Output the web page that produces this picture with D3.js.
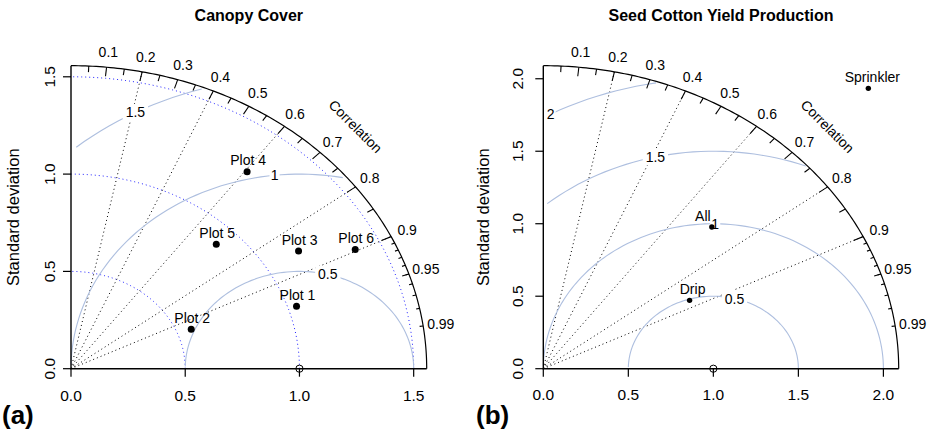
<!DOCTYPE html>
<html>
<head>
<meta charset="utf-8">
<script src="https://cdn.jsdelivr.net/npm/d3@7"></script>
<style>
  body { margin: 0; background: #fff; }
  svg text { font-family: "Liberation Sans", Arial, Helvetica, sans-serif; fill: #000; }
</style>
</head>
<body>
<svg id="chart" width="934" height="436"></svg>
<script>
// Taylor diagrams: (a) canopy cover, (b) seed cotton yield

// ---- data ----
const canopyNames = ['Plot 1', 'Plot 2', 'Plot 3', 'Plot 4', 'Plot 5', 'Plot 6'];
const canopySd = [1.038, 0.564, 1.165, 1.272, 0.902, 1.387];
const canopyCor = [0.951, 0.933, 0.855, 0.606, 0.705, 0.897];

const yieldNames = ['Sprinkler', 'All', 'Drip'];
const yieldSd = [2.719, 1.392, 0.981];
const yieldCor = [0.703, 0.712, 0.877];

const canopyTicks = [0, 0.5, 1.0, 1.5];
const yieldTicks = [0, 0.5, 1.0, 1.5, 2.0];
const canopyGamma = [0.5, 1, 1.5];
const yieldGamma = [0.5, 1, 1.5, 2];
const canopySdArcs = [0.5, 1.0, 1.5];
const yieldSdArcs = [];

const corLines = [0.2, 0.4, 0.6, 0.8, 0.9];
const corLabels = [0.1, 0.2, 0.3, 0.4, 0.5, 0.6, 0.7, 0.8, 0.9, 0.95, 0.99];
const bigTicks = [0.1, 0.2, 0.3, 0.4, 0.5, 0.6, 0.7, 0.8, 0.9];
const medTicks = [0.05, 0.15, 0.25, 0.35, 0.45, 0.55, 0.65, 0.75, 0.85, 0.95];
const smlTicks = [0.91, 0.92, 0.93, 0.94, 0.95, 0.96, 0.97, 0.98, 0.99];

const svg = d3.select('#chart');

function taylor(cfg) {
    const g = svg.append('g');
    const maxsd = cfg.maxsd;
    const x = d3.scaleLinear().domain([0, maxsd]).range([cfg.x0, cfg.x1]);
    const y = d3.scaleLinear().domain([0, maxsd]).range([cfg.y0, cfg.y1]);
    const line = d3.line().x(function (d) { return x(d[0]); }).y(function (d) { return y(d[1]); });

    // 四分之一圆弧的点
    const quarter = function (r) {
        const pts = d3.range(0, Math.PI / 2, 0.01).map(function (a) { return [Math.cos(a) * r, Math.sin(a) * r]; });
        pts.push([0, r]);
        return pts;
    };

    // sd arcs (blue dotted)
    cfg.sdArcs.forEach(function (s) {
        g.append('path').attr('d', line(quarter(s)))
            .attr('fill', 'none').attr('stroke', '#2020ff').attr('stroke-width', 1)
            .attr('stroke-dasharray', '1,3');
    });

    // correlation lines
    corLines.forEach(function (c) {
        g.append('path').attr('d', line([[0, 0], [maxsd * c, maxsd * Math.sqrt(1 - c * c)]]))
            .attr('stroke', '#000').attr('stroke-width', 1).attr('stroke-dasharray', '1,3');
    });

    // gamma (centred RMS) arcs, same rule as plotrix
    const th = d3.range(0, 105).map(function (i) { return i * 0.03; });
    const labelPos = d3.range(cfg.gamma.length).map(function (i) {
        return cfg.gamma.length > 1 ? 45 + i * 25 / (cfg.gamma.length - 1) : 45;
    });
    cfg.gamma.forEach(function (gm, gi) {
        const xc = th.map(function (t) { return Math.cos(t) * gm + cfg.ref; });
        const yc = th.map(function (t) { return Math.sin(t) * gm; });
        let endc = xc.findIndex(function (v) { return v < 0; });
        endc = endc >= 0 ? endc : 105;
        let startc = -1;
        xc.forEach(function (v, i) { if (v * v + yc[i] * yc[i] > maxsd * maxsd) startc = i; });
        startc = startc + 1;
        const pts = [];
        for (let i = startc; i < endc; i++) pts.push([xc[i], yc[i]]);
        g.append('path').attr('d', line(pts)).attr('fill', 'none')
            .attr('stroke', '#aebfdf').attr('stroke-width', 1.1);
        const li = Math.floor(labelPos[gi]) - 1;
        if (xc[li] > 0) {
            const lab = g.append('g').attr('transform', 'translate(' + x(xc[li]) + ',' + y(yc[li]) + ')');
            const t = lab.append('text').attr('text-anchor', 'middle').attr('dy', '0.36em')
                .style('font-size', '14px').text(gm);
            const w = t.node().getComputedTextLength();
            lab.insert('rect', 'text').attr('x', -w * 0.65).attr('y', -8.5)
                .attr('width', w * 1.3).attr('height', 17).attr('fill', '#fff');
        }
    });

    // axes
    g.append('path').attr('d', line([[0, maxsd], [0, 0], [maxsd, 0]]))
        .attr('fill', 'none').attr('stroke', '#000').attr('stroke-width', 1.4);
    cfg.ticks.forEach(function (t) {
        g.append('line').attr('x1', x(t)).attr('x2', x(t)).attr('y1', cfg.y0).attr('y2', cfg.y0 + 8)
            .attr('stroke', '#000').attr('stroke-width', 1.2);
        g.append('text').attr('x', x(t)).attr('y', cfg.xLabY).attr('dy', '0.36em')
            .attr('text-anchor', 'middle').style('font-size', '15.5px').text(d3.format('.1f')(t));
        g.append('line').attr('x1', cfg.x0 - 8).attr('x2', cfg.x0).attr('y1', y(t)).attr('y2', y(t))
            .attr('stroke', '#000').attr('stroke-width', 1.2);
        g.append('text').attr('transform', 'translate(' + (cfg.x0 - cfg.yLabOff) + ',' + y(t) + ') rotate(-90)')
            .attr('dy', '0.36em').attr('text-anchor', 'middle').style('font-size', '15.5px')
            .text(d3.format('.1f')(t));
    });

    // outer arc
    g.append('path').attr('d', line(quarter(maxsd))).attr('fill', 'none')
        .attr('stroke', '#000').attr('stroke-width', 1.2);

    const ticks = function (vals, inner) {
        vals.forEach(function (c) {
            const s = Math.sqrt(1 - c * c);
            g.append('path').attr('d', line([[c * maxsd, s * maxsd], [c * inner * maxsd, s * inner * maxsd]]))
                .attr('stroke', '#000').attr('stroke-width', 1.1);
        });
    };
    ticks(bigTicks, 0.97);
    ticks(medTicks, 0.98);
    ticks(smlTicks, 0.99);

    corLabels.forEach(function (c) {
        const s = Math.sqrt(1 - c * c);
        g.append('text').attr('x', x(c * 1.05 * maxsd)).attr('y', y(s * 1.05 * maxsd)).attr('dy', '0.36em')
            .attr('text-anchor', 'middle').style('font-size', '14px').text(c);
    });
    g.append('text')
        .attr('transform', 'translate(' + x(0.8 * maxsd) + ',' + y(0.8 * maxsd) + ') rotate(45)')
        .attr('dy', '0.36em').attr('text-anchor', 'middle').style('font-size', '14px').text('Correlation');

    // reference point
    g.append('circle').attr('cx', x(cfg.ref)).attr('cy', y(0)).attr('r', 3.6)
        .attr('fill', 'none').attr('stroke', '#000').attr('stroke-width', 1);

    // model points
    cfg.names.forEach(function (n, i) {
        const px = cfg.sd[i] * cfg.cor[i];
        const py = cfg.sd[i] * Math.sqrt(1 - cfg.cor[i] * cfg.cor[i]);
        g.append('circle').attr('cx', x(px)).attr('cy', y(py)).attr('r', cfg.pr).attr('fill', '#000');
        const sh = cfg.labelShift[n] || 0;
        g.append('text').attr('x', x(px) + 1 + sh).attr('y', y(py) - 11.5).attr('dy', '0.36em')
            .attr('text-anchor', 'middle').style('font-size', '14px').text(n);
    });

    // titles
    g.append('text').attr('x', (cfg.x0 + cfg.x1) / 2).attr('y', 21).attr('text-anchor', 'middle')
        .style('font-size', '16px').style('font-weight', 'bold').text(cfg.title);
    g.append('text')
        .attr('transform', 'translate(' + (cfg.x0 - cfg.yTitleOff) + ',' + ((cfg.y0 + cfg.y1) / 2) + ') rotate(-90)')
        .attr('dy', '0.36em').attr('text-anchor', 'middle').style('font-size', '16.5px').text('Standard deviation');
    g.append('text').attr('x', cfg.tagX).attr('y', 424).style('font-size', '26px')
        .style('font-weight', 'bold').text(cfg.tag);
}

taylor({
    title: 'Canopy Cover', tag: '(a)', tagX: 2,
    names: canopyNames, sd: canopySd, cor: canopyCor,
    ticks: canopyTicks, gamma: canopyGamma, sdArcs: canopySdArcs,
    maxsd: 1.557, ref: 1,
    x0: 71, x1: 426.7, y0: 368.7, y1: 65.7,
    xLabY: 395, yLabOff: 21.8, yTitleOff: 57.5, pr: 3.5,
    labelShift: {}
});

taylor({
    title: 'Seed Cotton Yield Production', tag: '(b)', tagX: 476,
    names: yieldNames, sd: yieldSd, cor: yieldCor,
    ticks: yieldTicks, gamma: yieldGamma, sdArcs: yieldSdArcs,
    maxsd: 2.09, ref: 1,
    x0: 543.3, x1: 898.7, y0: 368.7, y1: 65.7,
    xLabY: 394, yLabOff: 25.8, yTitleOff: 60.3, pr: 2.7,
    labelShift: { 'Sprinkler': 3, 'All': -10, 'Drip': 2 }
});
</script>
</body>
</html>
